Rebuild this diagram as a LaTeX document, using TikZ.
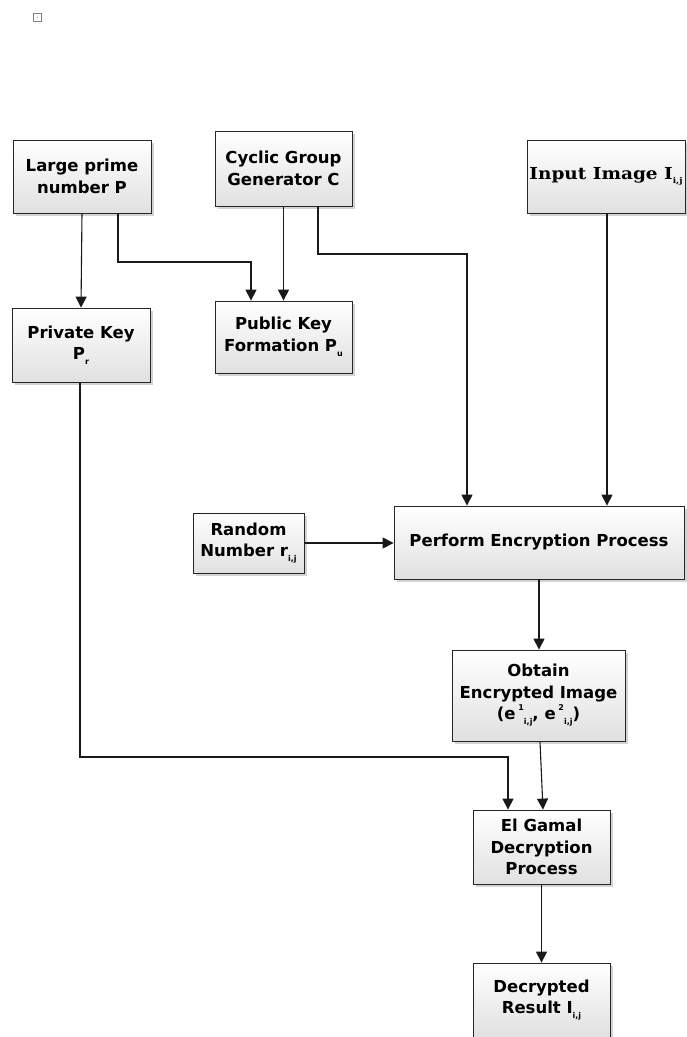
\documentclass[tikz,border=0pt]{standalone}
\usepackage{fontspec}
\setmainfont{DejaVu Sans}
\newfontfamily\serifb[FakeStretch=1.12]{DejaVu Serif}
\usetikzlibrary{shadows,arrows.meta}
\newcommand{\sbs}[1]{\raisebox{-0.55ex}{\fontsize{8}{8}\selectfont #1}}
\newcommand{\spr}[1]{\raisebox{1.05ex}{\fontsize{8}{8}\selectfont #1}}
\begin{document}
\begin{tikzpicture}[x=1pt,y=-1pt,
  box/.style={draw=black!85, line width=0.8pt, top color=white, bottom color=black!12,
    drop shadow={shadow xshift=2.5pt, shadow yshift=-2.5pt, opacity=0.35},
    align=center, font=\fontsize{16.5}{21.5}\selectfont\bfseries, inner sep=2pt},
  arr/.style={draw=black!90, line width=1.1pt, -{Triangle[width=11pt,length=11pt]}}]
\useasboundingbox (0,0) rectangle (686,1037);
% small icon
\draw[black!50, line width=0.8pt] (33,13) rectangle (41,21);
\fill[black!40] (36.5,16.5) rectangle (37.5,17.5);
% nodes
\node[box, minimum width=138pt, minimum height=73pt] (lp) at (82,176.5) {Large prime\\number P};
\node[box, minimum width=137pt, minimum height=75pt] (cg) at (283.5,168.5) {Cyclic Group\\Generator C};
\node[box, minimum width=158pt, minimum height=73pt, font=\fontsize{16.5}{20}\selectfont\bfseries\serifb] (ii) at (606,176.5) {Input Image I\sbs{i,j}};
\node[box, minimum width=138pt, minimum height=74pt] (pk) at (81,345) {Private Key\\P\sbs{r}};
\node[box, minimum width=137pt, minimum height=72pt] (pub) at (283.5,337) {Public Key\\Formation P\sbs{u}};
\node[box, minimum width=111pt, minimum height=60pt] (rn) at (248.5,543) {Random\\Number r\sbs{i,j}};
\node[box, minimum width=290pt, minimum height=73pt] (pe) at (539,542.5) {Perform Encryption Process};
\node[box, minimum width=173pt, minimum height=91pt] (oe) at (538.5,695.5) {Obtain\\Encrypted Image\\(e\,\spr{1}\sbs{i,j}, e\,\spr{2}\sbs{i,j})};
\node[box, minimum width=137pt, minimum height=74pt] (eg) at (541.5,847) {El Gamal\\Decryption\\Process};
\node[box, minimum width=137pt, minimum height=74pt] (dr) at (541.5,1000) {Decrypted\\Result I\sbs{i,j}};
% helper coordinates
\coordinate (c1) at (251,262);
\coordinate (c2) at (467,254);
\coordinate (c3) at (508,757);
% connectors
\draw[arr] (lp.south) -- (pk.north);
\draw[arr] ([xshift=36pt]lp.south) |- (c1) -- (c1 |- pub.north);
\draw[arr] (cg.south) -- (cg.south |- pub.north);
\draw[arr] ([xshift=34.5pt]cg.south) |- (c2) -- (c2 |- pe.north);
\draw[arr] ([xshift=1pt]ii.south) -- ([xshift=1pt]ii.south |- pe.north);
\draw[arr] (rn.east) -- (rn.east -| pe.west);
\draw[arr] (pe.south) -- (pe.south |- oe.north);
\draw[arr] ([xshift=-1pt]pk.south) |- (c3) -- (c3 |- eg.north);
\draw[arr] ([xshift=1.5pt]oe.south) -- ([xshift=1.5pt]eg.north);
\draw[arr] (eg.south) -- (dr.north);
\end{tikzpicture}
\end{document}
